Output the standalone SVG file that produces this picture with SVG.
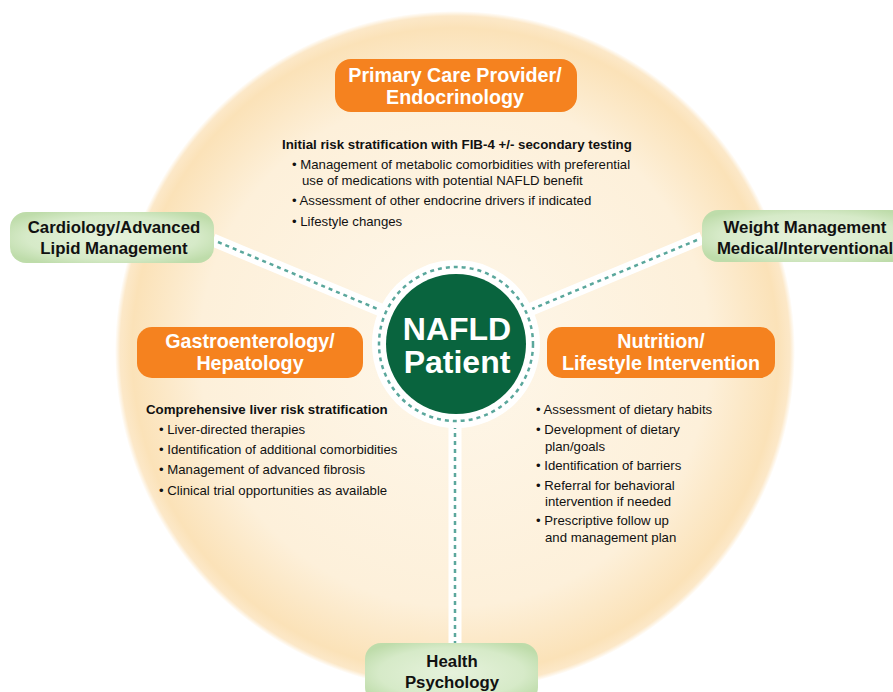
<svg xmlns="http://www.w3.org/2000/svg" width="893" height="692" viewBox="0 0 893 692">
<defs>
<radialGradient id="bg" cx="0.5" cy="0.5" r="0.5">
<stop offset="0" stop-color="#fef7ea"/>
<stop offset="0.75" stop-color="#fdf0da"/>
<stop offset="0.95" stop-color="#fbe2b8"/>
<stop offset="0.985" stop-color="#fce8c8"/>
<stop offset="1" stop-color="#ffffff"/>
</radialGradient>
<radialGradient id="gb" cx="0.5" cy="0.5" r="0.6">
<stop offset="0" stop-color="#e6f2dc"/>
<stop offset="0.7" stop-color="#d6eac8"/>
<stop offset="1" stop-color="#bedcaa"/>
</radialGradient>
<style>
.orange{fill:#f5821f}
.green{fill:url(#gb)}
.wt{font-family:"Liberation Sans",Arial,sans-serif;font-weight:bold;font-size:19.7px;fill:#fff;text-anchor:middle}
.big{font-size:32px}
.bt{font-family:"Liberation Sans",Arial,sans-serif;font-weight:bold;font-size:16.8px;fill:#111;text-anchor:middle}
.hd{font-family:"Liberation Sans",Arial,sans-serif;font-weight:bold;font-size:13.3px;fill:#111}
.it{font-family:"Liberation Sans",Arial,sans-serif;font-size:13.2px;fill:#111}
.band{stroke:#fff;stroke-width:13;fill:none}
.dash{stroke:#5aa79c;stroke-width:2.5;stroke-dasharray:4 4;fill:none}
</style>
</defs>
<rect width="893" height="692" fill="#fff"/>
<circle cx="455" cy="351" r="340" fill="url(#bg)"/>

<g id="connectors">
<line class="band" x1="213" y1="240" x2="400" y2="318"/>
<line class="band" x1="702" y1="238" x2="510" y2="318"/>
<line class="band" x1="455" y1="400" x2="455" y2="645"/>
<line class="dash" x1="218" y1="242" x2="380" y2="310"/>
<line class="dash" x1="697" y1="240" x2="532" y2="309"/>
<line class="dash" x1="455" y1="425" x2="455" y2="645"/>
</g>

<g id="nafld">
<circle cx="456" cy="344" r="84" fill="#fff"/>
<circle cx="456" cy="344" r="77" fill="none" stroke="#5aa79c" stroke-width="2.5" stroke-dasharray="4 4"/>
<circle cx="456" cy="344" r="70" fill="#09643e"/>
<text class="wt big" x="457" y="340">NAFLD</text>
<text class="wt big" x="457" y="373">Patient</text>
</g>

<g id="primary">
<rect class="orange" x="335" y="59" width="242" height="53" rx="16"/>
<text class="wt" x="455" y="82">Primary Care Provider/</text>
<text class="wt" x="455" y="104">Endocrinology</text>
<text class="hd" x="282" y="149">Initial risk stratification with FIB-4 +/- secondary testing</text>
<text class="it" x="292" y="169">• Management of metabolic comorbidities with preferential</text>
<text class="it" x="302" y="185">use of medications with potential NAFLD benefit</text>
<text class="it" x="292" y="205">• Assessment of other endocrine drivers if indicated</text>
<text class="it" x="292" y="226">• Lifestyle changes</text>
</g>

<g id="cardiology">
<rect class="green" x="10" y="212" width="204" height="51" rx="16"/>
<text class="bt" x="114" y="233">Cardiology/Advanced</text>
<text class="bt" x="114" y="254">Lipid Management</text>
</g>

<g id="weight">
<rect class="green" x="702" y="210" width="215" height="52" rx="16"/>
<text class="bt" x="805" y="233">Weight Management</text>
<text class="bt" x="805" y="254">Medical/Interventional</text>
</g>

<g id="gastro">
<rect class="orange" x="137" y="327" width="226" height="51" rx="15"/>
<text class="wt" x="250" y="348">Gastroenterology/</text>
<text class="wt" x="250" y="370">Hepatology</text>
<text class="hd" x="146" y="414">Comprehensive liver risk stratification</text>
<text class="it" x="159" y="434">• Liver-directed therapies</text>
<text class="it" x="159" y="454">• Identification of additional comorbidities</text>
<text class="it" x="159" y="474">• Management of advanced fibrosis</text>
<text class="it" x="159" y="495">• Clinical trial opportunities as available</text>
</g>

<g id="nutrition">
<rect class="orange" x="547" y="327" width="228" height="51" rx="15"/>
<text class="wt" x="661" y="348">Nutrition/</text>
<text class="wt" x="661" y="370">Lifestyle Intervention</text>
<text class="it" x="536" y="414">• Assessment of dietary habits</text>
<text class="it" x="536" y="434">• Development of dietary</text>
<text class="it" x="545" y="451">plan/goals</text>
<text class="it" x="536" y="470">• Identification of barriers</text>
<text class="it" x="536" y="490">• Referral for behavioral</text>
<text class="it" x="545" y="506">intervention if needed</text>
<text class="it" x="536" y="525">• Prescriptive follow up</text>
<text class="it" x="545" y="542">and management plan</text>
</g>

<g id="health">
<rect class="green" x="365" y="643" width="173" height="60" rx="16"/>
<text class="bt" x="452" y="667">Health</text>
<text class="bt" x="452" y="688">Psychology</text>
</g>
</svg>
